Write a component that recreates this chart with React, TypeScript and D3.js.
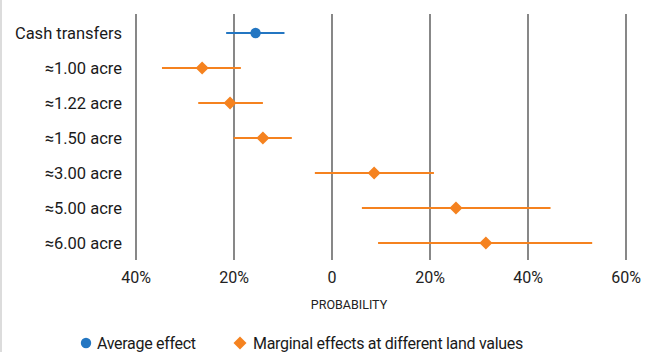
import React, { useEffect, useRef } from "react";
import * as d3 from "d3";

const categories = ["Cash transfers", "≈1.00 acre", "≈1.22 acre", "≈1.50 acre", "≈3.00 acre", "≈5.00 acre", "≈6.00 acre"];
const series = ["avg", "marg", "marg", "marg", "marg", "marg", "marg"];
const estimates = [-15.6, -26.5, -20.8, -14.1, 8.6, 25.3, 31.4];
const lows = [-21.6, -34.7, -27.3, -20.1, -3.5, 6.1, 9.4];
const highs = [-9.7, -18.6, -14.1, -8.2, 20.8, 44.6, 53.1];
const ticks = [-40, -20, 0, 20, 40, 60];
const legendLabels = ["Average effect", "Marginal effects at different land values"];

const BLUE = "#2376c2";
const ORANGE = "#f5821f";
const FONT = "Roboto, 'Liberation Sans', sans-serif";

export default function App() {
  const ref = useRef<SVGSVGElement>(null);

  useEffect(() => {
    const svg = d3.select(ref.current);
    svg.selectAll("*").remove();

    const x = d3.scaleLinear().domain([-40, 60]).range([136, 626]);
    const y = d3.scalePoint().domain(categories).range([33, 243]);

    // faint page edge
    svg.append("line").attr("x1", 1).attr("x2", 1).attr("y1", 0).attr("y2", 352)
      .attr("stroke", "#d0d0d0").attr("stroke-width", 1.5);

    // grid lines
    svg.selectAll(".grid").data(ticks).join("line")
      .attr("class", "grid")
      .attr("x1", d => x(d)).attr("x2", d => x(d))
      .attr("y1", 14).attr("y2", 260)
      .attr("stroke", "#555").attr("stroke-width", 1.4);

    svg.selectAll(".tick").data(ticks).join("text")
      .attr("class", "tick")
      .attr("x", d => x(d)).attr("y", 283)
      .attr("text-anchor", "middle")
      .attr("font-family", FONT).attr("font-size", 16).attr("fill", "#222")
      .text(d => d === 0 ? "0" : `${Math.abs(d)}%`);

    svg.append("text").attr("x", 349).attr("y", 309)
      .attr("text-anchor", "middle")
      .attr("font-family", FONT).attr("font-size", 12.5).attr("fill", "#222")
      .text("PROBABILITY");

    svg.selectAll(".cat").data(categories).join("text")
      .attr("class", "cat")
      .attr("x", 122).attr("y", d => (y(d) ?? 0) + 6)
      .attr("text-anchor", "end")
      .attr("font-family", FONT).attr("font-size", 16.5).attr("fill", "#1a1a1a")
      .text(d => d);

    const idx = d3.range(categories.length);
    const col = (i: number) => series[i] === "avg" ? BLUE : ORANGE;

    svg.selectAll(".ci").data(idx).join("line")
      .attr("class", "ci")
      .attr("x1", i => x(lows[i])).attr("x2", i => x(highs[i]))
      .attr("y1", i => y(categories[i]) ?? 0).attr("y2", i => y(categories[i]) ?? 0)
      .attr("stroke", i => col(i)).attr("stroke-width", 2);

    const circle = d3.symbol().type(d3.symbolCircle).size(85);
    const diamond = d3.symbol().type(d3.symbolSquare).size(85);

    svg.selectAll(".pt").data(idx).join("path")
      .attr("class", "pt")
      .attr("d", i => series[i] === "avg" ? circle() : diamond())
      .attr("transform", i => `translate(${x(estimates[i])},${y(categories[i])})` + (series[i] === "avg" ? "" : " rotate(45)"))
      .attr("fill", i => col(i));

    // legend
    svg.append("path").attr("d", circle()!).attr("transform", "translate(86,343)").attr("fill", BLUE);
    svg.append("text").attr("x", 97).attr("y", 349)
      .attr("font-family", FONT).attr("font-size", 16).attr("letter-spacing", -0.3)
      .attr("fill", "#1a1a1a").text(legendLabels[0]);
    svg.append("path").attr("d", diamond()!).attr("transform", "translate(240,343) rotate(45)").attr("fill", ORANGE);
    svg.append("text").attr("x", 253).attr("y", 349)
      .attr("font-family", FONT).attr("font-size", 16).attr("letter-spacing", -0.3)
      .attr("fill", "#1a1a1a").text(legendLabels[1]);
  }, []);

  return (
    <svg ref={ref} width={645} height={352}
      style={{ position: "absolute", left: 0, top: 0, background: "#fff" }} />
  );
}
